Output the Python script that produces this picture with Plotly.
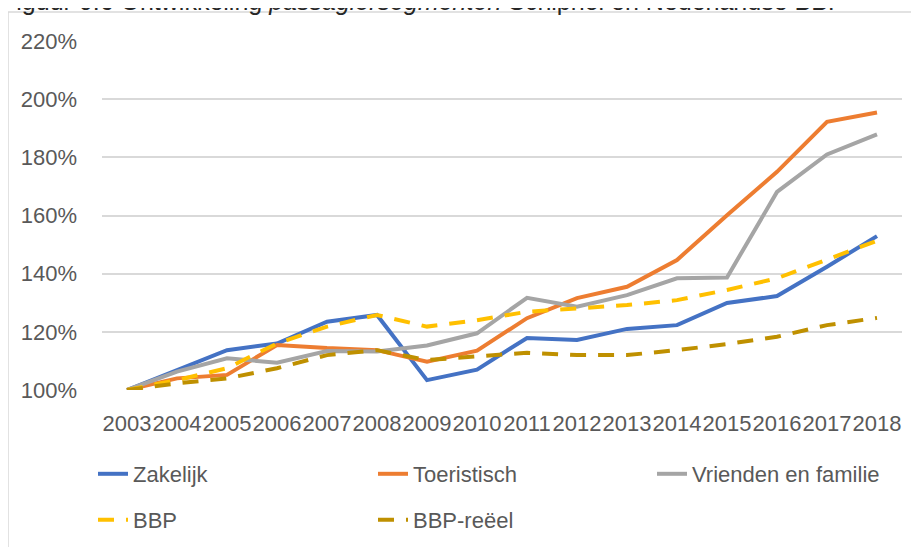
import plotly.graph_objects as go

years = [str(y) for y in range(2003, 2019)]
zakelijk = [100, 106.9, 113.7, 116.0, 123.5, 125.8, 103.4, 107.0, 117.9, 117.2, 121.0, 122.3, 129.9, 132.3, 142.4, 152.9]
toeristisch = [100, 104.0, 105.2, 115.5, 114.4, 113.7, 109.7, 113.5, 124.7, 131.6, 135.5, 144.7, 160.1, 175.0, 192.2, 195.4]
vrienden = [100, 106.3, 110.9, 109.4, 113.4, 113.2, 115.3, 119.5, 131.7, 128.6, 132.6, 138.4, 138.7, 168.1, 181.0, 187.9]
bbp = [100, 103.4, 107.5, 116.0, 121.8, 125.8, 121.8, 124.0, 126.9, 128.0, 129.2, 130.9, 134.4, 138.4, 144.9, 151.3]
bbp_reeel = [100, 102.3, 104.0, 107.5, 112.0, 113.7, 110.3, 111.5, 112.8, 112.0, 112.0, 113.7, 115.8, 118.3, 122.3, 124.8]

y_ticks = [100, 120, 140, 160, 180, 200, 220]
y_tick_labels = ["100%", "120%", "140%", "160%", "180%", "200%", "220%"]

FONT = "Liberation Sans, Arial, sans-serif"
TXT = "#595959"

# page body has an 8px margin; figure is sized to fit the window
OFF = 8
W, H = 919 - OFF, 547 - OFF
L, T = 102 - OFF, 41 - OFF
R = W - (902 - OFF)
B = H - (390 - OFF)
pw, ph = W - L - R, H - T - B


def px_x(page_x):
    return (page_x - OFF - L) / pw


def px_y(page_y):
    return (H - B - (page_y - OFF)) / ph


# legend anchors (page pixels): left edge, vertical centre
legend_pos = {
    "legend": (93, 474),
    "legend2": (373, 474),
    "legend3": (652, 474),
    "legend4": (93, 520),
    "legend5": (373, 520),
}

fig = go.Figure()
series = [
    ("Zakelijk", zakelijk, "#4472C4", "solid", "legend"),
    ("Toeristisch", toeristisch, "#ED7D31", "solid", "legend2"),
    ("Vrienden en familie", vrienden, "#A5A5A5", "solid", "legend3"),
    ("BBP", bbp, "#FFC000", "16px,12px", "legend4"),
    ("BBP-reëel", bbp_reeel, "#BF9000", "16px,12px", "legend5"),
]
for name, vals, col, dash, lg in series:
    fig.add_trace(go.Scatter(
        x=years, y=vals, name=name, mode="lines",
        line=dict(color=col, width=4, dash=dash),
        legend=lg, showlegend=True,
    ))

legend_layouts = {}
for key, (lx, ly) in legend_pos.items():
    legend_layouts[key] = dict(
        orientation="h", x=px_x(lx), xanchor="left", y=px_y(ly), yanchor="middle",
        font=dict(family=FONT, size=22, color=TXT), bgcolor="rgba(0,0,0,0)",
        visible=True,
    )

fig.update_layout(
    width=W, height=H,
    showlegend=True,
    margin=dict(l=L, r=R, t=T, b=B, autoexpand=False),
    paper_bgcolor="white", plot_bgcolor="white",
    font=dict(family=FONT, size=22, color=TXT),
    xaxis=dict(
        type="category", tickangle=0, showgrid=False, showline=False,
        range=[-0.5, len(years) - 0.5], automargin=False,
        ticks="", ticklabelstandoff=18, zeroline=False,
        tickfont=dict(family=FONT, size=22, color=TXT),
    ),
    yaxis=dict(
        range=[100, 220], tickmode="array", tickvals=y_ticks, ticktext=y_tick_labels,
        showgrid=True, gridcolor="#D9D9D9", gridwidth=1.5, automargin=False,
        zeroline=False, showline=False, ticks="", ticklabelstandoff=24,
        tickfont=dict(family=FONT, size=22, color=TXT),
    ),
    shapes=[dict(
        type="rect", xref="paper", yref="paper", layer="below",
        x0=px_x(8), x1=px_x(940), y0=px_y(580), y1=px_y(12),
        line=dict(color="#D9D9D9", width=1.5), fillcolor="rgba(0,0,0,0)",
    )],
    annotations=[dict(
        xref="paper", yref="paper", x=px_x(-1), y=px_y(17), xanchor="left", yanchor="bottom",
        showarrow=False,
        text="Figuur 0.6 Ontwikkeling <i>passagiersegmenten</i> Schiphol en Nederlandse BBP",
        font=dict(family=FONT, size=25, color="#262626"),
    )],
    **legend_layouts,
)

fig.write_html("out.html")
